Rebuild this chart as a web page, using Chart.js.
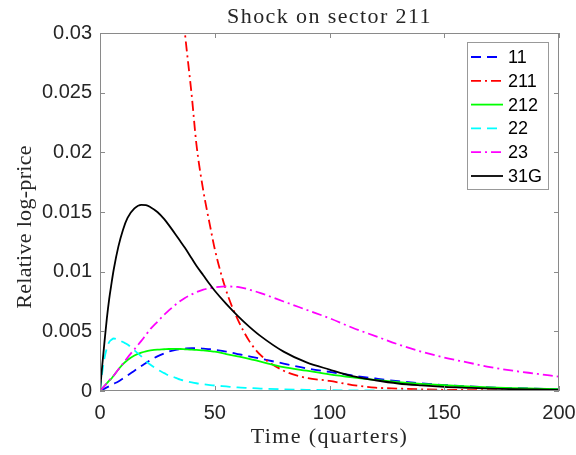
<!DOCTYPE html>
<html>
<head>
<meta charset="utf-8">
<title>Shock on sector 211</title>
<script src="https://cdn.jsdelivr.net/npm/chart.js@4.4.1/dist/chart.umd.min.js"></script>
<style>
    html, body { margin: 0; padding: 0; background: #fff; }
    #chart { display: block; }
</style>
</head>
<body>
<canvas id="chart" width="576" height="455"></canvas>
<script>
// impulse responses (time in quarters)
const quarters = [0, 1, 2, 3, 4, 5, 6, 8, 10, 12, 15, 18, 20, 22, 25, 28, 30, 33, 35, 37, 40,
    42, 45, 48, 50, 55, 60, 65, 70, 80, 90, 100, 110, 120, 130, 140, 150, 160, 170, 180, 190, 200];

const sector11 = [0, 0.0001, 0.0002, 0.0003, 0.0004, 0.0005, 0.0006, 0.0008, 0.00105, 0.0013, 0.0017,
    0.0021, 0.00235, 0.0026, 0.0029, 0.00315, 0.0033, 0.00345, 0.0035, 0.00355, 0.0036,
    0.0036, 0.00355, 0.0035, 0.00345, 0.0033, 0.0031, 0.0029, 0.0027, 0.0023, 0.0019,
    0.0016, 0.0013, 0.00105, 0.00082, 0.00064, 0.0005, 0.0004, 0.0003, 0.00024, 0.0002, 0.00015];

// own-sector response starts far above the plotted range
const sector211 = [null, null, null, null, null, null, null, null, null, null, null,
    null, null, null, null, null, 0.046, 0.038, 0.034, 0.030, 0.0247,
    0.0207, 0.0168, 0.0138, 0.0119, 0.0084, 0.0060, 0.0042, 0.0030, 0.0017, 0.0011,
    0.00085, 0.0005, 0.00028, 0.0002, 0.00014, 0.0001, 0.00008, 0.00006, 0.00005, 0.00004, 0.00003];

const sector212 = [0, 0.00022, 0.00044, 0.00065, 0.00086, 0.00105, 0.0013, 0.0018, 0.00225, 0.0026, 0.00298,
    0.00322, 0.00333, 0.0034, 0.00347, 0.0035, 0.00352, 0.00353, 0.00352, 0.0035, 0.00347,
    0.00344, 0.0034, 0.00334, 0.0033, 0.0031, 0.0029, 0.0027, 0.00246, 0.0020, 0.0017,
    0.0014, 0.00115, 0.00093, 0.00075, 0.0006, 0.00048, 0.00038, 0.0003, 0.00024, 0.0002, 0.00016];

const sector22 = [0, 0.0016, 0.0028, 0.0036, 0.0041, 0.0043, 0.0044, 0.0043, 0.0041, 0.0039, 0.0034,
    0.0029, 0.0025, 0.0022, 0.0018, 0.0015, 0.0013, 0.0011, 0.00095, 0.00085, 0.00072,
    0.00065, 0.00057, 0.0005, 0.00046, 0.00038, 0.0003, 0.00025, 0.0002, 0.00014, 0.0001,
    0.00007, 0.00005, 0.00004, 0.00003, 0.00002, 0.00002, 0.00001, 0.00001, 0.00001, 0.00001, 0.00001];

const sector23 = [0, 0.00022, 0.00044, 0.00066, 0.00088, 0.0011, 0.0013, 0.0018, 0.0023, 0.0028, 0.0035,
    0.0042, 0.0047, 0.0052, 0.0058, 0.0064, 0.00675, 0.00725, 0.00755, 0.0078, 0.0081,
    0.00828, 0.0085, 0.00862, 0.00868, 0.00876, 0.00872, 0.0085, 0.0082, 0.0075, 0.0068,
    0.0061, 0.0053, 0.0046, 0.0039, 0.0033, 0.0028, 0.0024, 0.0020, 0.0017, 0.00145, 0.0012];

const sector31G = [0, 0.0022, 0.0042, 0.0061, 0.0077, 0.0090, 0.0102, 0.0121, 0.0135, 0.0145, 0.0153,
    0.0156, 0.01558, 0.0154, 0.0150, 0.0144, 0.0139, 0.0131, 0.01255, 0.0120, 0.0111,
    0.0105, 0.0097, 0.0089, 0.0084, 0.0073, 0.0063, 0.0054, 0.0046, 0.0033, 0.0024,
    0.0018, 0.00125, 0.0009, 0.00063, 0.00047, 0.00035, 0.00027, 0.0002, 0.00016, 0.00013, 0.0001];

const seriesNames = ['11', '211', '212', '22', '23', '31G'];
const seriesValues = [sector11, sector211, sector212, sector22, sector23, sector31G];
const seriesColors = ['#0000ff', '#ff0000', '#00ff00', '#00ffff', '#ff00ff', '#000000'];

const xTicks = [0, 50, 100, 150, 200];
const yTicks = [0, 0.005, 0.01, 0.015, 0.02, 0.025, 0.03];

const DASHED = [10, 6];
const DASH_DOT = [10, 4, 2, 4];
const seriesDash = [DASHED, DASH_DOT, [], DASHED, DASH_DOT, []];

const axisColor = '#8a8a8a';
const labelColor = '#262626';
const serifFont = '22px "Liberation Serif", "Times New Roman", serif';

function buildDatasets() {
    return seriesNames.map((name, i) => ({
        label: name,
        data: quarters.map((q, j) => ({ x: q, y: seriesValues[i][j] })),
        borderColor: seriesColors[i],
        borderDash: seriesDash[i],
        borderWidth: 1.8,
        pointRadius: 0,
        fill: false,
        spanGaps: false,
        cubicInterpolationMode: 'monotone',
        // matlab draws later series on top
        order: seriesNames.length - i
    }));
}

// box, inward ticks, labels and legend in the matlab way
const matlabAxes = {
    id: 'matlabAxes',
    afterDraw(chart) {
        const { ctx, chartArea: a, scales: { x, y } } = chart;
        ctx.save();

        ctx.strokeStyle = axisColor;
        ctx.lineWidth = 1;
        ctx.setLineDash([]);
        ctx.strokeRect(a.left + 0.5, a.top + 0.5, a.width - 1, a.height - 1);

        ctx.beginPath();
        xTicks.forEach(v => {
            const px = Math.round(x.getPixelForValue(v)) + 0.5;
            ctx.moveTo(px, a.bottom); ctx.lineTo(px, a.bottom - 5);
            ctx.moveTo(px, a.top); ctx.lineTo(px, a.top + 5);
        });
        yTicks.forEach(v => {
            const py = Math.round(y.getPixelForValue(v)) + 0.5;
            ctx.moveTo(a.left, py); ctx.lineTo(a.left + 5, py);
            ctx.moveTo(a.right, py); ctx.lineTo(a.right - 5, py);
        });
        ctx.stroke();

        // title and axis labels
        ctx.fillStyle = labelColor;
        ctx.font = serifFont;
        ctx.textAlign = 'center';
        ctx.textBaseline = 'alphabetic';
        ctx.letterSpacing = '1.4px';
        const cx = (a.left + a.right) / 2;
        ctx.fillText('Shock on sector 211', cx, 23);
        ctx.fillText('Time (quarters)', cx, 443);

        ctx.save();
        ctx.letterSpacing = '0.3px';
        ctx.translate(31, 227);
        ctx.rotate(-Math.PI / 2);
        ctx.fillText('Relative log-price', 0, 0);
        ctx.restore();
        ctx.letterSpacing = '0px';

        // legend
        const lx = 467, ly = 42, lw = 81, lh = 147;
        ctx.fillStyle = '#fff';
        ctx.fillRect(lx, ly, lw, lh);
        ctx.strokeStyle = '#999';
        ctx.strokeRect(lx + 0.5, ly + 0.5, lw, lh);

        ctx.font = '18px "Liberation Sans", Arial, sans-serif';
        ctx.textAlign = 'left';
        ctx.textBaseline = 'middle';
        chart.data.datasets.forEach((ds, i) => {
            const rowY = ly + 15 + i * 23.8;
            ctx.strokeStyle = ds.borderColor;
            ctx.lineWidth = ds.borderWidth;
            ctx.setLineDash(ds.borderDash);
            ctx.beginPath();
            ctx.moveTo(lx + 4, rowY);
            ctx.lineTo(lx + 36, rowY);
            ctx.stroke();
            ctx.fillStyle = '#000';
            ctx.fillText(ds.label, lx + 41, rowY + 1);
        });

        ctx.restore();
    }
};

const tickFont = { family: '"Liberation Sans", Arial, sans-serif', size: 20 };

new Chart(document.getElementById('chart'), {
    type: 'line',
    data: { datasets: buildDatasets() },
    options: {
        responsive: false,
        animation: false,
        events: [],
        layout: { padding: { top: 33, right: 17, left: 0, bottom: 0 } },
        plugins: {
            legend: { display: false },
            title: { display: false },
            tooltip: { enabled: false }
        },
        scales: {
            x: {
                type: 'linear',
                min: 0,
                max: 200,
                afterBuildTicks: s => { s.ticks = xTicks.map(v => ({ value: v })); },
                afterFit: s => {
                    s.height = 64;
                    s.paddingLeft = 0;
                    s.paddingRight = 0;
                },
                grid: { display: false, drawTicks: false },
                border: { display: false },
                ticks: {
                    color: labelColor,
                    font: tickFont,
                    padding: 10,
                    maxRotation: 0,
                    callback: v => String(v)
                }
            },
            y: {
                type: 'linear',
                min: 0,
                max: 0.03,
                afterBuildTicks: s => { s.ticks = yTicks.map(v => ({ value: v })); },
                afterFit: s => {
                    s.width = 100;
                    s.paddingTop = 0;
                    s.paddingBottom = 0;
                },
                grid: { display: false, drawTicks: false },
                border: { display: false },
                ticks: {
                    color: labelColor,
                    font: tickFont,
                    padding: 8,
                    callback: v => String(Number(v.toFixed(3)))
                }
            }
        }
    },
    plugins: [matlabAxes]
});
</script>
</body>
</html>
